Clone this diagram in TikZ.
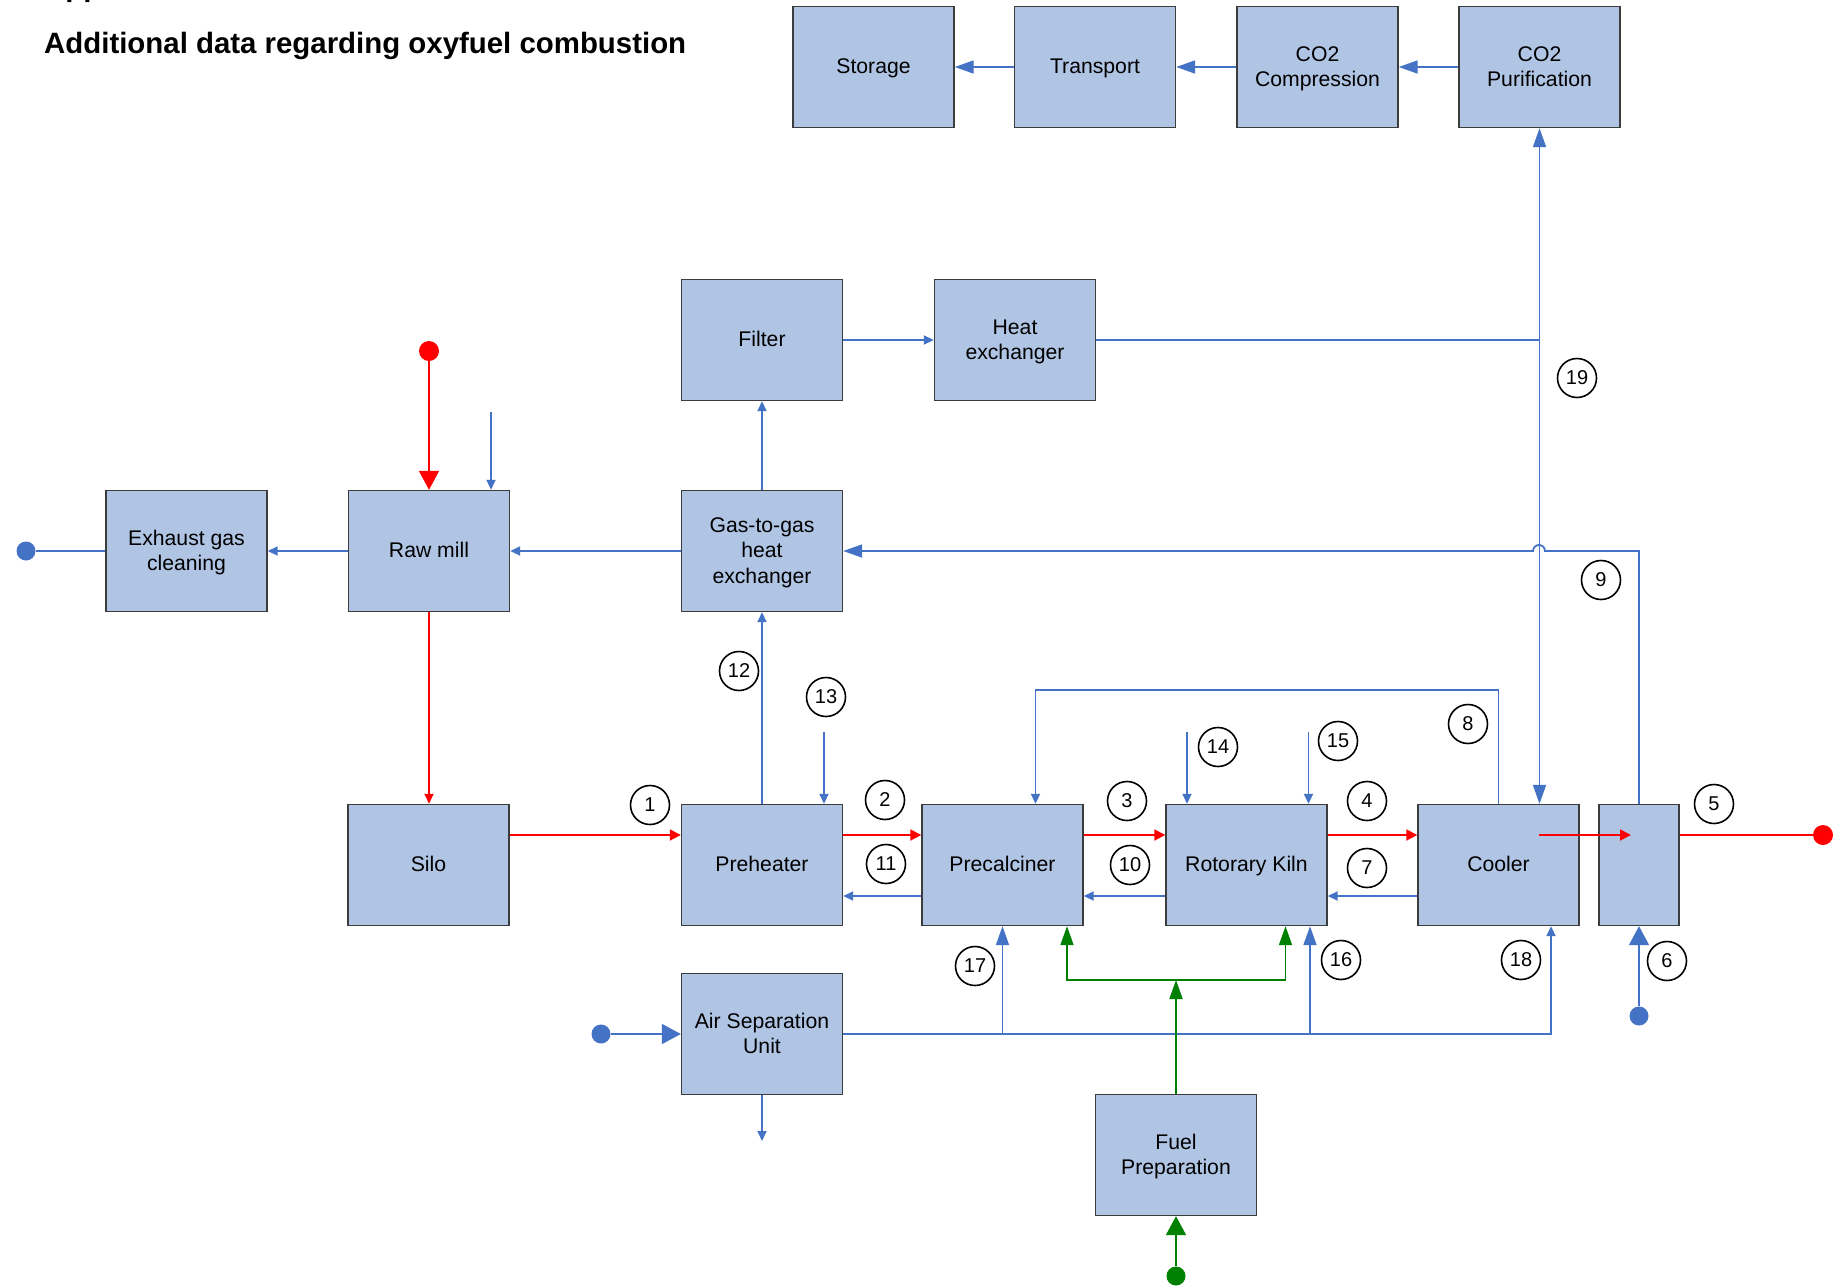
\documentclass[tikz,border=0pt]{standalone}
\usepackage{fontspec}
\setmainfont{Liberation Sans}
\usetikzlibrary{arrows.meta}
\definecolor{boxfill}{RGB}{176,196,228}
\definecolor{flowblue}{RGB}{68,114,196}
\definecolor{flowred}{RGB}{255,0,0}
\definecolor{flowgreen}{RGB}{0,128,0}
\definecolor{boxedge}{RGB}{60,60,60}
% one label line: fixed height/depth so that capitals are centred
\newcommand\lbl[1]{\rule[-2pt]{0pt}{17.5pt}\smash{#1}}
\begin{document}
\begin{tikzpicture}[x=1pt,y=-1pt,
  unit/.style={draw=boxedge, line width=1.4pt, fill=boxfill, minimum width=161pt, minimum height=121pt, inner sep=2pt, align=center, font=\fontsize{21.2}{25.4}\selectfont, text=black},
  num/.style={circle, draw=black, line width=1.6pt, minimum size=39pt, inner sep=0pt, font=\fontsize{20}{22}\selectfont},
  dotnode/.style={circle, minimum size=19pt, inner sep=0pt, draw=none},
  bdot/.style={dotnode, fill=flowblue},
  rdot/.style={dotnode, fill=flowred, minimum size=20pt},
  gdot/.style={dotnode, fill=flowgreen},
  bl/.style={draw=flowblue, line width=1.8pt},
  rd/.style={draw=flowred, line width=1.8pt},
  gr/.style={draw=flowgreen, line width=1.8pt},
  tS/.style={-{Triangle[length=10pt,width=9pt]}},
  tM/.style={-{Triangle[length=11pt,width=11pt]}},
  tB/.style={-{Triangle[length=19pt,width=13pt]}},
  tBW/.style={-{Triangle[length=19pt,width=20pt]}},
  ttitle/.style={anchor=base west, inner sep=0pt, font=\fontsize{29.4}{34}\selectfont\bfseries}
]
\useasboundingbox (0,0) rectangle (1845,1288);
\fill[white] (0,0) rectangle (1845,1288);

% title
\node[ttitle] (app) at (44,-4) {Appendix};
\node[ttitle] (title) at (44,53) {Additional data regarding oxyfuel combustion};

% units
\node[unit] (stor) at (873.5,67) {\lbl{Storage}};
\node[unit] (trans) at (1095,67) {\lbl{Transport}};
\node[unit] (comp) at (1317.5,67) {\lbl{CO2}\\\lbl{Compression}};
\node[unit] (puri) at (1539.5,67) {\lbl{CO2}\\\lbl{Purification}};
\node[unit] (filt) at (762,340) {\lbl{Filter}};
\node[unit] (hx) at (1015,340) {\lbl{Heat}\\\lbl{exchanger}};
\node[unit] (exh) at (186.5,551) {\lbl{Exhaust gas}\\\lbl{cleaning}};
\node[unit] (raw) at (429,551) {\lbl{Raw mill}};
\node[unit] (g2g) at (762,551) {\lbl{Gas-to-gas}\\\lbl{heat}\\\lbl{exchanger}};
\node[unit] (silo) at (428.5,865) {\lbl{Silo}};
\node[unit] (pre) at (762,865) {\lbl{Preheater}};
\node[unit] (calc) at (1002.5,865) {\lbl{Precalciner}};
\node[unit] (kiln) at (1246.5,865) {\lbl{Rotorary Kiln}};
\node[unit] (cool) at (1498.5,865) {\lbl{Cooler}};
\node[unit, minimum width=80pt] (sb) at (1639,865) {};
\node[unit] (asu) at (762,1034) {\lbl{Air Separation}\\\lbl{Unit}};
\node[unit] (fuel) at (1176,1155) {\lbl{Fuel}\\\lbl{Preparation}};

% terminals
\node[bdot] (d1) at (26,551) {};
\node[rdot] (r1) at (429,351) {};
\node[bdot] (d2) at (601,1034) {};
\node[bdot] (d3) at (1639,1016) {};
\node[rdot] (r2) at (1823,835) {};
\node[gdot] (g1) at (1176,1276) {};

% helper coordinates
\coordinate (redy) at (0,835);
\coordinate (rety) at (0,896);
\coordinate (rawin) at (491,412);
\coordinate (in13) at (824,732);
\coordinate (in14) at (1187,732);
\coordinate (in15) at (1308.5,732);
\coordinate (asuout) at (762,1141);
\coordinate (y8) at (0,690);
\coordinate (x8) at (1035.5,0);
\coordinate (x18) at (1551,0);
\coordinate (x16) at (1310,0);
\coordinate (gjl) at (1067,980);
\coordinate (gjr) at (1285.5,980);
\coordinate (cin) at (1539,835);
\coordinate (cout) at (1631,835);

% CO2 chain
\draw[bl,tB] (puri.west) -- (comp.east);
\draw[bl,tB] (comp.west) -- (trans.east);
\draw[bl,tB] (trans.west) -- (stor.east);
\draw[bl,{Triangle[length=19pt,width=13pt]}-{Triangle[length=19pt,width=13pt]}] (puri.south) -- (puri.south |- cool.north);
\draw[bl] (hx.east) -- (puri.south |- hx.east);

% gas path
\draw[bl,tS] (filt.east) -- (hx.west);
\draw[bl,tS] (g2g.north) -- (filt.south);
\draw[bl,tS] (g2g.west) -- (raw.east);
\draw[bl,tS] (raw.west) -- (exh.east);
\draw[bl] (exh.west) -- (d1);
\draw[bl,tS] (pre.north) -- (g2g.south);

% raw mill
\draw[rd,tBW] (r1) -- (raw.north);
\draw[bl,tS] (rawin) -- (rawin |- raw.north);
\draw[rd,tS] (raw.south) -- (raw.south |- silo.north);

% main solids flow
\draw[rd,tM] (silo.east |- redy) -- (pre.west |- redy);
\draw[rd,tM] (pre.east |- redy) -- (calc.west |- redy);
\draw[rd,tM] (calc.east |- redy) -- (kiln.west |- redy);
\draw[rd,tM] (kiln.east |- redy) -- (cool.west |- redy);
\draw[rd,tM] (cin) -- (cout);
\draw[rd] (sb.east |- redy) -- (r2);

% gas returns
\draw[bl,tS] (cool.west |- rety) -- (kiln.east |- rety);
\draw[bl,tS] (kiln.west |- rety) -- (calc.east |- rety);
\draw[bl,tS] (calc.west |- rety) -- (pre.east |- rety);

% inputs from top
\draw[bl,tS] (in13) -- (in13 |- pre.north);
\draw[bl,tS] (in14) -- (in14 |- kiln.north);
\draw[bl,tS] (in15) -- (in15 |- kiln.north);
\draw[bl,tS] (cool.north) -- (cool.north |- y8) -| (x8 |- calc.north);

% stream 9 with jump
\draw[bl,tB] (sb.north) -- (sb.north |- g2g.east) -- (1545,551) arc[start angle=0,end angle=180,radius=6pt] -- (g2g.east);
\draw[bl,tBW] (d3) -- (sb.south);

% air separation
\draw[bl,tBW] (d2) -- (asu.west);
\draw[bl,tS] (asu.south) -- (asuout);
\draw[bl,tS] (asu.east) -| (x18 |- cool.south);
\draw[bl,tB] (calc.south |- asu.east) -- (calc.south);
\draw[bl,tB] (x16 |- asu.east) -- (x16 |- kiln.south);

% fuel
\draw[gr,tBW] (g1) -- (fuel.south);
\draw[gr,tB] (fuel.north) -- (fuel.north |- gjl);
\draw[gr,{Triangle[length=19pt,width=13pt]}-{Triangle[length=19pt,width=13pt]}] (gjl |- calc.south) -- (gjl) -- (gjr) -- (gjr |- kiln.south);

% stream numbers
\node[num] (n1) at (650,805) {1};
\node[num] (n2) at (885,800) {2};
\node[num] (n3) at (1127,801) {3};
\node[num] (n4) at (1367,801) {4};
\node[num] (n5) at (1714,804) {5};
\node[num] (n6) at (1667,961) {6};
\node[num] (n7) at (1367,868) {7};
\node[num] (n8) at (1468,724) {8};
\node[num] (n9) at (1601,580) {9};
\node[num] (n10) at (1130,865) {10};
\node[num] (n11) at (886,864) {11};
\node[num] (n12) at (739,671) {12};
\node[num] (n13) at (826,697) {13};
\node[num] (n14) at (1218,747) {14};
\node[num] (n15) at (1338,741) {15};
\node[num] (n16) at (1341,960) {16};
\node[num] (n17) at (975,966) {17};
\node[num] (n18) at (1521,960) {18};
\node[num] (n19) at (1577,378) {19};
\end{tikzpicture}
\end{document}
